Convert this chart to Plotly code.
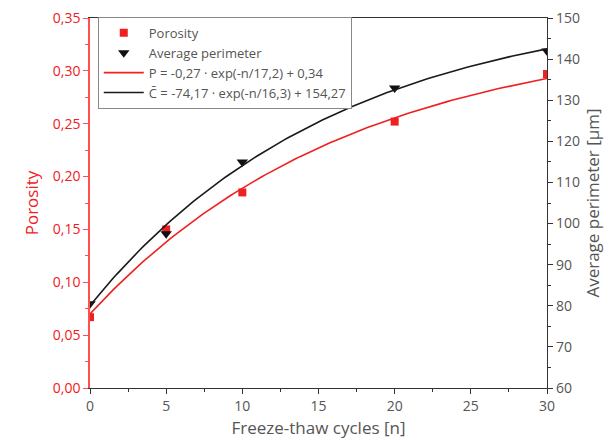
import numpy as np
import plotly.graph_objects as go

cycles = [0, 5, 10, 20, 30]
porosity = [0.067, 0.150, 0.185, 0.252, 0.297]
perimeter = [80.5, 97.5, 115.0, 133.0, 142.0]

# fit parameters (from legend)
p_a, p_t, p_c = -0.27, 17.2, 0.34
c_a, c_t, c_c = -74.17, 16.3, 154.27

n_fit = np.linspace(0, 30, 121)
p_fit = p_a * np.exp(-n_fit / p_t) + p_c
c_fit = c_a * np.exp(-n_fit / c_t) + c_c

RED = "#f02020"
GRAY = "#555555"
FONT = "Open Sans"

fig = go.Figure()
fig.add_trace(go.Scatter(x=cycles, y=porosity, mode="markers", name="Porosity", cliponaxis=True,
                         marker=dict(symbol="square", size=8, color=RED), yaxis="y"))
fig.add_trace(go.Scatter(x=cycles, y=perimeter, mode="markers", name="Average perimeter", cliponaxis=True,
                         marker=dict(symbol="triangle-down", size=10, color="#111111"), yaxis="y2"))
fig.add_trace(go.Scatter(x=n_fit, y=p_fit, mode="lines", name="P = -0,27 · exp(-n/17,2) + 0,34",
                         line=dict(color=RED, width=1.6), yaxis="y"))
fig.add_trace(go.Scatter(x=n_fit, y=c_fit, mode="lines", name="C\u0304 = -74,17 · exp(-n/16,3) + 154,27",
                         line=dict(color="#1a1a1a", width=1.6), yaxis="y2"))

fig.update_layout(
    width=616, height=440,
    margin=dict(l=90, r=69, t=18, b=52),
    paper_bgcolor="white", plot_bgcolor="white",
    separators=", ",
    font=dict(family=FONT, color=GRAY, size=14),
    showlegend=True,
    legend=dict(x=0.017, y=1.003, xanchor="left", yanchor="top",
                bordercolor="#888888", borderwidth=1, bgcolor="white",
                font=dict(size=13, color=GRAY), tracegroupgap=0, itemwidth=40),
    xaxis=dict(range=[0, 30], tickvals=[0, 5, 10, 15, 20, 25, 30], automargin=False,
               showgrid=False, zeroline=False, showline=True, linecolor="#333333", linewidth=1.2,
               mirror=True, ticks="outside", ticklen=5, tickcolor="#333333",
               minor=dict(ticks="outside", ticklen=3, dtick=2.5, tickcolor="#333333"),
               title=dict(text="Freeze-thaw cycles [n]", font=dict(size=17, color=GRAY), standoff=8),
               tickfont=dict(size=14, color=GRAY)),
    yaxis=dict(range=[0, 0.35], dtick=0.05, tickformat=".2f", automargin=False,
               showgrid=False, zeroline=False, showline=True, linecolor="#ff5050", linewidth=1.5,
               ticks="outside", ticklen=5, tickcolor="#ff5050",
               minor=dict(ticks="outside", ticklen=3, dtick=0.025, tickcolor="#ff5050"),
               title=dict(text="Porosity", font=dict(size=17, color=RED), standoff=10),
               tickfont=dict(size=14, color=RED)),
    yaxis2=dict(range=[60, 150], dtick=10, overlaying="y", side="right", automargin=False,
                showgrid=False, zeroline=False, showline=True, linecolor="#333333", linewidth=1.2,
                ticks="outside", ticklen=5, tickcolor="#333333",
                minor=dict(ticks="outside", ticklen=3, dtick=5, tickcolor="#333333"),
                title=dict(text="Average perimeter [µm]", font=dict(size=17, color=GRAY), standoff=8),
                tickfont=dict(size=14, color=GRAY)),
)

fig.write_html("out.html")
